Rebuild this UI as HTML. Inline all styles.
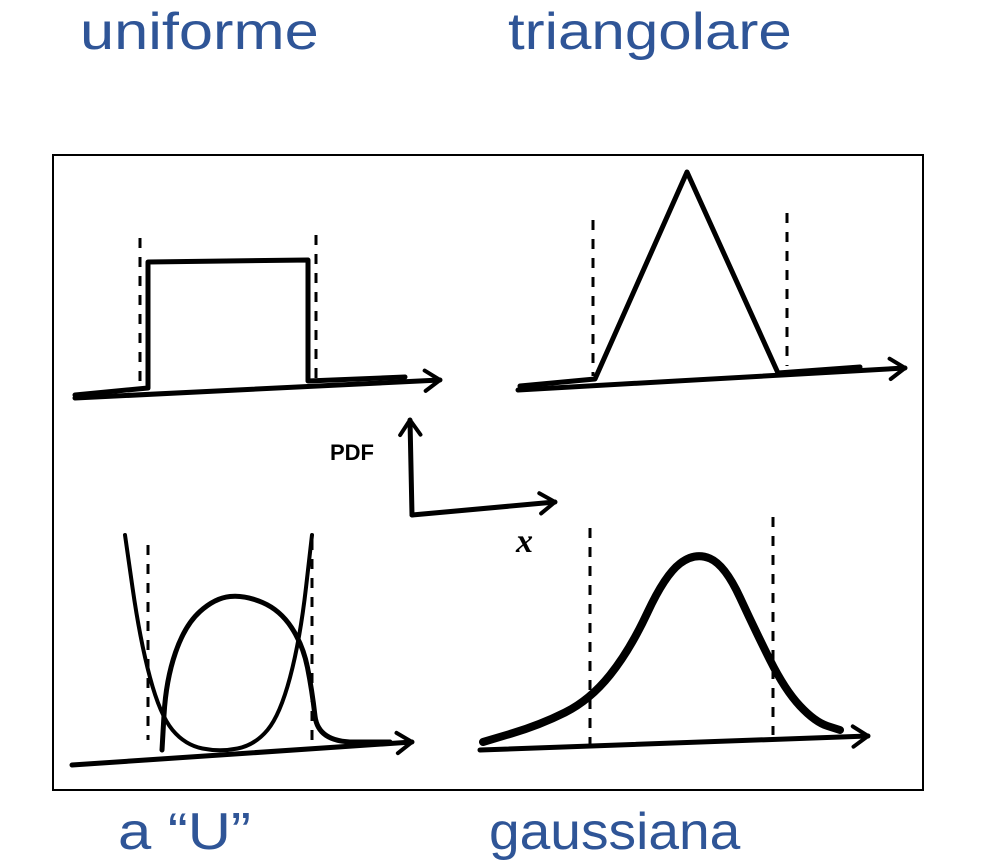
<!DOCTYPE html>
<html><head><meta charset="utf-8">
<style>
html,body{margin:0;padding:0;background:#fff;}
body{width:981px;height:863px;position:relative;overflow:hidden;font-family:"Liberation Sans",sans-serif;}
.t{position:absolute;color:#2f5597;font-size:52px;line-height:1;white-space:nowrap;transform-origin:0 0;}
</style></head><body>
<div class="t" style="left:80px;top:6px;transform:scaleX(1.18)">uniforme</div>
<div class="t" style="left:508px;top:6px;transform:scaleX(1.155)">triangolare</div>
<div class="t" style="left:118px;top:806px;transform:scaleX(1.15)">a “U”</div>
<div class="t" style="left:489px;top:806px;transform:scaleX(1.06)">gaussiana</div>
<svg id="s" width="981" height="863" style="position:absolute;left:0;top:0">
<rect x="53" y="155" width="870" height="635" fill="none" stroke="#000" stroke-width="2"/>
<text x="330" y="460" font-family="Liberation Sans,sans-serif" font-weight="bold" font-size="22">PDF</text>
<text x="516" y="552" font-family="Liberation Serif,serif" font-style="italic" font-weight="bold" font-size="34">x</text>
</svg>
<script>
// sketch curves
const uniformCurve=[[75,395],[148,388],[148,262],[308,260],[308,381],[405,377]];
const triangleCurve=[[520,386],[595,379],[687,172],[778,373],[860,367]];
const uLeft=[[125,535],[140,640],[160,715],[185,745],[220,752],[255,745],[280,715],[300,640],[312,535]];
const uLoop=[[162,750],[166,680],[185,625],[215,598],[245,595],[280,610],[303,645],[312,690],[318,742],[390,742]];
const gaussCurve=[[483,742],[540,725],[590,700],[630,650],[665,575],[695,552],[725,565],[755,630],[785,690],[815,722],[840,730]];
const axes=[
 {name:'uniform-baseline',pts:[[75,398],[440,380]]},
 {name:'triangle-baseline',pts:[[518,390],[905,368]]},
 {name:'u-baseline',pts:[[72,765],[412,742]]},
 {name:'gauss-baseline',pts:[[480,750],[868,736]]},
 {name:'pdf-y-axis',pts:[[412,515],[410,420]]},
 {name:'pdf-x-axis',pts:[[412,515],[555,502]]}
];
const dashed=[[140,238,386],[316,235,380],[593,220,376],[787,213,366],[148,545,740],[312,540,740],[590,528,745],[773,517,735]];
const s=document.getElementById('s');
const NS='http://www.w3.org/2000/svg';
function path(pts,w,name,smooth){
 const p=document.createElementNS(NS,'path');
 let d='M'+pts[0].join(',');
 if(smooth){for(let i=1;i<pts.length;i++){const a=pts[i-1],b=pts[i];d+=' Q'+a[0]+','+a[1]+' '+((a[0]+b[0])/2)+','+((a[1]+b[1])/2);}d+=' L'+pts[pts.length-1].join(',');}
 else for(let i=1;i<pts.length;i++)d+=' L'+pts[i].join(',');
 p.setAttribute('d',d);p.setAttribute('fill','none');p.setAttribute('stroke','#000');
 p.setAttribute('stroke-width',w);p.setAttribute('stroke-linejoin','round');p.setAttribute('stroke-linecap','round');
 
 
 s.appendChild(p);return p;
}
path(uniformCurve,5,'uniform-curve',false);
path(triangleCurve,5,'triangle-curve',false);
path(uLeft,4,'u-curve',true);
path(uLoop,5,'arcsine-loop',true);
path(gaussCurve,8,'gauss-curve',true);
axes.forEach(a=>{
 path(a.pts,5,a.name,false);
 const [x0,y0]=a.pts[0],[x1,y1]=a.pts[1];
 const ang=Math.atan2(y1-y0,x1-x0),L=18;
 const h=[[x1-L*Math.cos(ang-0.6),y1-L*Math.sin(ang-0.6)],[x1,y1],[x1-L*Math.cos(ang+0.6),y1-L*Math.sin(ang+0.6)]];
 path(h,4,a.name+'-arrow',false);
});
dashed.forEach((d,i)=>{
 const l=document.createElementNS(NS,'line');
 l.setAttribute('x1',d[0]);l.setAttribute('x2',d[0]);l.setAttribute('y1',d[1]);l.setAttribute('y2',d[2]);
 l.setAttribute('stroke','#000');l.setAttribute('stroke-width',3);l.setAttribute('stroke-dasharray','10 9');
 
 
 s.appendChild(l);
});
</script>
</body></html>
